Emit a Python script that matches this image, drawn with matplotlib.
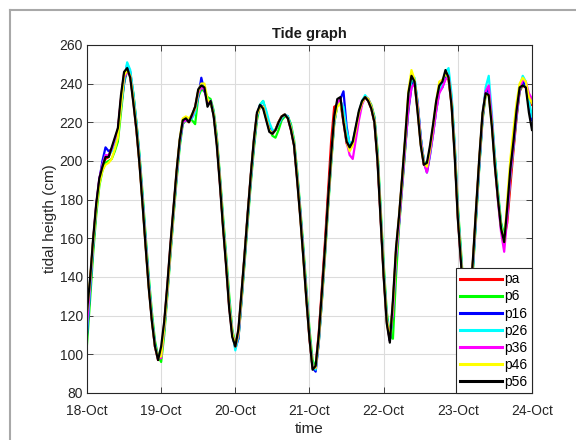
import numpy as np
import pandas as pd
import matplotlib
matplotlib.use('Agg')
import matplotlib.pyplot as plt
import matplotlib.dates as mdates
from matplotlib.lines import Line2D

plt.rcParams['font.family'] = ['Liberation Sans', 'DejaVu Sans']

# hourly tide heights (cm), 18-Oct 00:00 .. 24-Oct 00:00
pa = [118,137,159,177,190,197,201,202,206,211,216,232,245,248,244,231,216,199,178,156,135,118,104,97,
      100,116,135,156,175,194,210,220,221,220,223,228,236,238,238,231,231,224,210,189,167,147,125,110,
      104,112,131,151,172,192,210,224,228,228,222,216,214,216,220,223,224,222,216,208,191,172,151,129,
      108,93,94,111,134,158,184,210,228,229,230,220,209,206,209,217,225,230,233,231,227,220,201,171,
      141,117,107,126,153,171,191,211,232,240,240,226,209,198,197,206,217,229,237,240,244,242,229,204,
      171,149,125,112,126,150,176,201,223,236,237,220,199,181,167,160,168,187,205,222,236,239,238,233,229]
p6 = [105,128,152,172,187,195,199,200,201,205,210,225,240,247,245,235,220,203,183,161,140,122,107,99,
      96,110,130,151,171,190,207,219,221,222,221,219,233,237,236,233,232,226,213,193,172,152,131,113,
      105,108,127,147,168,188,206,221,229,231,225,217,213,212,216,221,223,223,219,211,195,176,156,134,
      113,97,93,106,127,150,175,198,219,229,230,224,212,208,209,216,224,230,233,232,229,223,206,177,
      147,122,110,108,140,166,186,206,228,241,241,229,212,200,198,205,216,228,237,240,245,245,232,208,
      177,154,130,114,122,146,172,198,221,234,235,222,202,184,168,162,172,192,207,223,236,240,239,228,222]
p16 = [110,133,156,175,190,200,207,205,206,210,215,228,240,250,246,234,219,201,180,158,137,119,105,98,
       100,113,132,153,173,192,209,220,221,221,223,226,233,243,236,232,230,224,211,191,169,149,127,111,
       103,108,128,149,170,190,208,223,229,228,223,217,215,216,219,222,224,223,217,209,193,174,153,131,
       110,93,91,106,128,152,177,200,220,229,232,236,218,208,209,216,224,230,233,232,228,222,203,173,
       143,119,107,122,150,168,188,208,226,238,242,230,212,200,194,203,214,226,236,238,243,244,231,206,
       174,151,127,113,124,148,174,199,222,235,237,221,200,182,166,157,173,194,208,224,237,241,239,229,221]
p26 = [112,134,157,176,190,198,203,203,205,210,215,228,241,251,247,235,220,202,181,159,138,120,105,98,
       99,113,132,153,173,192,209,220,221,221,222,225,234,239,238,232,231,225,211,191,170,150,128,112,
       102,109,129,150,171,191,209,223,229,231,226,220,216,216,219,222,224,223,218,210,194,174,153,131,
       110,94,92,107,129,152,177,200,220,229,231,228,216,209,210,217,225,231,234,232,228,222,204,174,
       144,120,108,123,151,169,189,209,230,242,243,230,212,200,196,204,215,227,236,240,246,248,234,208,
       175,152,128,114,124,148,174,199,223,238,244,225,202,183,167,159,173,193,208,224,238,244,241,231,223]
p36 = [115,136,158,177,191,198,203,203,206,211,216,231,243,246,244,232,217,200,179,157,136,118,104,98,
       98,114,133,154,174,193,210,220,221,221,223,227,235,238,237,230,231,224,210,190,168,148,126,111,
       104,110,130,151,172,192,210,224,228,228,222,216,214,216,220,223,224,222,217,209,192,173,152,130,
       109,93,93,108,130,153,178,201,221,230,232,222,210,203,201,211,221,229,233,232,228,221,202,172,
       142,118,110,121,150,168,188,208,227,238,240,229,211,199,194,204,214,226,235,238,242,244,230,205,
       172,149,126,113,126,150,176,201,223,236,239,222,198,179,163,153,171,193,208,224,237,242,241,235,232]
p46 = [122,138,158,175,188,195,198,199,201,206,212,228,244,247,244,232,217,199,178,156,135,118,104,98,
       99,114,133,154,174,194,211,222,223,222,224,227,236,240,240,232,230,224,210,190,168,148,126,111,
       104,111,130,151,172,192,210,224,228,228,222,216,214,216,220,223,224,222,217,209,192,172,151,129,
       109,93,93,108,130,153,178,201,221,228,230,222,210,205,208,216,225,230,233,232,228,221,202,172,
       142,118,108,125,153,171,191,212,236,247,242,227,209,199,197,206,218,231,241,242,245,243,229,204,
       172,150,126,113,127,151,177,202,224,234,234,219,198,181,166,158,180,201,216,230,240,243,241,233,230]
p56 = [122,139,160,178,191,197,202,202,207,212,217,234,246,248,243,230,216,198,177,155,134,117,104,97,
       104,117,136,157,176,195,211,221,222,220,224,228,237,239,238,228,231,223,208,188,166,146,124,109,
       104,113,132,152,173,193,211,225,229,227,221,215,214,216,220,223,224,222,216,208,190,171,150,128,
       108,92,94,110,132,155,180,203,223,232,233,220,210,207,210,218,226,231,233,231,227,220,200,170,
       140,116,106,128,155,172,192,213,235,244,241,225,208,198,199,208,219,231,239,241,247,243,228,202,
       170,148,124,112,128,152,178,203,225,235,234,218,197,180,165,158,176,196,210,226,238,239,238,225,216]

names = ['pa', 'p6', 'p16', 'p26', 'p36', 'p46', 'p56']
series = [pa, p6, p16, p26, p36, p46, p56]
colors = ['#ff0000', '#00ff00', '#0000ff', '#00ffff', '#ff00ff', '#ffff00', '#000000']

t = pd.date_range('2019-10-18 00:00', periods=len(p56), freq='h')

fig = plt.figure(figsize=(5.76, 4.4), dpi=100)
ax = fig.add_axes([0.151, 0.107, 0.7726, 0.791])

for name, vals, c in zip(names, series, colors):
    ax.plot(t, vals, color=c, lw=1.6, label=name)

ax.set_xlim(t[0], t[-1])
ax.set_ylim(80, 260)
ax.set_yticks(np.arange(80, 261, 20))
ax.xaxis.set_major_locator(mdates.DayLocator())
ax.xaxis.set_major_formatter(mdates.DateFormatter('%d-%b'))

ax.grid(True, color='#dcdcdc', lw=0.8)
ax.set_axisbelow(True)
for s in ax.spines.values():
    s.set_color('#262626')
    s.set_linewidth(0.8)
ax.tick_params(direction='in', top=True, right=True, length=4, width=0.6,
               labelsize=10, colors='#262626', pad=3)
ax.tick_params(axis='x', pad=8)

ax.set_title('Tide graph', fontsize=10.5, fontweight='bold', color='#1a1a1a', pad=5)
ax.set_xlabel('time', fontsize=11, color='#262626', labelpad=3)
ax.set_ylabel('tidal heigth (cm)', fontsize=11, color='#262626', labelpad=2)

leg = ax.legend(loc='lower right', fontsize=10, borderaxespad=0, fancybox=False,
                framealpha=1, edgecolor='#262626', handlelength=3.0,
                handletextpad=0.2, labelspacing=0.22, borderpad=0.3)
leg.get_frame().set_linewidth(0.8)
for line in leg.get_lines():
    line.set_linewidth(2.2)

# grey window frame along the top and left
fig.add_artist(Line2D([10/576, 1], [1 - 10/440, 1 - 10/440], color='#a8a8a8', lw=1.5))
fig.add_artist(Line2D([10/576, 10/576], [0, 1 - 10/440], color='#a8a8a8', lw=1.5))

fig.savefig('out.png', dpi=100)
